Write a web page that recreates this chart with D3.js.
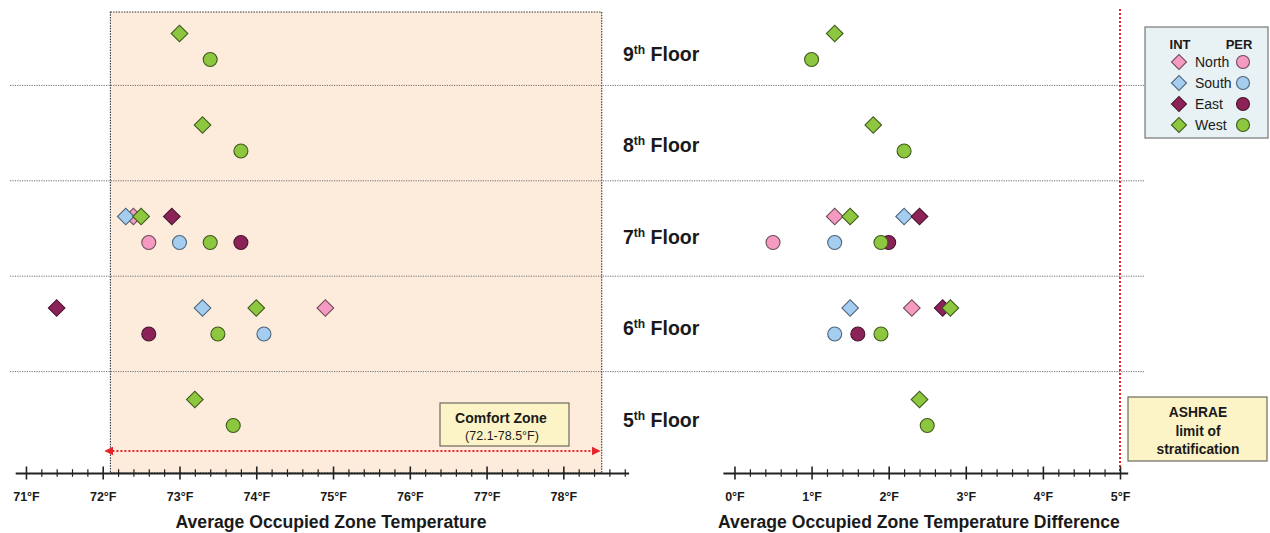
<!DOCTYPE html>
<html>
<head>
<meta charset="utf-8">
<script src="https://cdn.jsdelivr.net/npm/d3@7"></script>
<style>
  html, body { margin: 0; padding: 0; background: #ffffff; }
  svg { display: block; font-family: "Liberation Sans", Arial, sans-serif; }
</style>
</head>
<body>
<svg id="chart" width="1270" height="533"></svg>
<script>
// ---------------- DATA ----------------
const floors = [9, 8, 7, 6, 5];
const orientations = ["North", "South", "East", "West"];

// Average occupied zone temperature (°F), ordered as floors [9,8,7,6,5]
const tempIntNorth = [null, null, 72.4, 74.9, null];
const tempIntSouth = [null, null, 72.3, 73.3, null];
const tempIntEast  = [null, null, 72.9, 71.4, null];
const tempIntWest  = [73.0, 73.3, 72.5, 74.0, 73.2];
const tempPerNorth = [null, null, 72.6, null, null];
const tempPerSouth = [null, null, 73.0, 74.1, null];
const tempPerEast  = [null, null, 73.8, 72.6, null];
const tempPerWest  = [73.4, 73.8, 73.4, 73.5, 73.7];

// Average occupied zone temperature difference (°F)
const diffIntNorth = [null, null, 1.3, 2.3, null];
const diffIntSouth = [null, null, 2.2, 1.5, null];
const diffIntEast  = [null, null, 2.4, 2.7, null];
const diffIntWest  = [1.3, 1.8, 1.5, 2.8, 2.4];
const diffPerNorth = [null, null, 0.5, null, null];
const diffPerSouth = [null, null, 1.3, 1.3, null];
const diffPerEast  = [null, null, 2.0, 1.6, null];
const diffPerWest  = [1.0, 2.2, 1.9, 1.9, 2.5];

const tempMajorTicks = [71, 72, 73, 74, 75, 76, 77, 78];
const diffMajorTicks = [0, 1, 2, 3, 4, 5];
const comfortRange = [72.1, 78.5];
const ashraeLimit = 5;

// ---------------- STYLE / LAYOUT ----------------
const fillColor = d3.scaleOrdinal().domain(orientations)
  .range(["#f59bc2", "#a4cdef", "#8c2358", "#8dc63f"]);
const strokeColor = d3.scaleOrdinal().domain(orientations)
  .range(["#6e4a5a", "#4d6479", "#4a1530", "#3f5a1d"]);

const svg = d3.select("#chart");
const axisY = 473;
const FONT = "'Liberation Sans', Arial, sans-serif";

const xL = d3.scaleLinear().domain([70.86, 78.85]).range([15.2, 628.6]);
const xR = d3.scaleLinear().domain([-0.15, 5.1]).range([722.9, 1127.7]);

const yMark = d3.scalePoint().domain(floors).range([46.5, 412.5]);
const yBand = d3.scaleBand().domain(floors).range([-10, 467]);
const markOffset = 13;

function buildPoints(intArrays, perArrays) {
  const pts = [];
  orientations.forEach((o, j) => {
    floors.forEach((f, i) => {
      const v = intArrays[j][i];
      if (v != null) pts.push({ floor: f, orient: o, value: v, type: "INT" });
    });
  });
  orientations.forEach((o, j) => {
    floors.forEach((f, i) => {
      const v = perArrays[j][i];
      if (v != null) pts.push({ floor: f, orient: o, value: v, type: "PER" });
    });
  });
  return pts;
}

const tempPoints = buildPoints(
  [tempIntNorth, tempIntSouth, tempIntEast, tempIntWest],
  [tempPerNorth, tempPerSouth, tempPerEast, tempPerWest]);
const diffPoints = buildPoints(
  [diffIntNorth, diffIntSouth, diffIntEast, diffIntWest],
  [diffPerNorth, diffPerSouth, diffPerEast, diffPerWest]);

// ---------------- DEFS ----------------
const defs = svg.append("defs");
["start", "end"].forEach(k => {
  defs.append("marker")
    .attr("id", "arrow-" + k)
    .attr("viewBox", "0 0 10 10")
    .attr("refX", k === "end" ? 9 : 1).attr("refY", 5)
    .attr("markerWidth", 4.5).attr("markerHeight", 4.5)
    .attr("markerUnits", "strokeWidth")
    .attr("orient", "auto-start-reverse")
    .append("path")
    .attr("d", "M0,0 L10,5 L0,10 Z")
    .attr("fill", "#e3262b");
});

// ---------------- COMFORT ZONE BACKGROUND ----------------
svg.append("rect")
  .attr("x", xL(comfortRange[0]))
  .attr("y", 12)
  .attr("width", xL(comfortRange[1]) - xL(comfortRange[0]))
  .attr("height", axisY - 12)
  .attr("fill", "#fdecdc")
  .attr("stroke", "#333")
  .attr("stroke-width", 1.1)
  .attr("stroke-dasharray", "1.5,1.2");

// ---------------- FLOOR SEPARATORS ----------------
svg.append("g").selectAll("line")
  .data(floors.slice(1))
  .join("line")
  .attr("x1", 10).attr("x2", 1145)
  .attr("y1", d => yBand(d)).attr("y2", d => yBand(d))
  .attr("stroke", "#6f6f6f")
  .attr("stroke-width", 1)
  .attr("stroke-dasharray", "1.2,1.2");

// ---------------- ASHRAE LIMIT LINE ----------------
svg.append("line")
  .attr("x1", xR(ashraeLimit)).attr("x2", xR(ashraeLimit))
  .attr("y1", 9).attr("y2", axisY)
  .attr("stroke", "#e3262b")
  .attr("stroke-width", 2)
  .attr("stroke-dasharray", "2,2");

// ---------------- COMFORT ARROW ----------------
svg.append("line")
  .attr("x1", xL(comfortRange[0]) + 2).attr("x2", xL(comfortRange[1]) - 2)
  .attr("y1", 451).attr("y2", 451)
  .attr("stroke", "#e3262b")
  .attr("stroke-width", 2)
  .attr("stroke-dasharray", "2,2")
  .attr("marker-start", "url(#arrow-start)")
  .attr("marker-end", "url(#arrow-end)");

// ---------------- AXES ----------------
function drawAxis(scale, majors, lo, hi) {
  const all = d3.range(Math.round(lo * 5), Math.round(hi * 5) + 1).map(k => k / 5);
  const isMajor = d => Math.abs(d - Math.round(d)) < 1e-6;
  const g = svg.append("g")
    .attr("transform", `translate(0,${axisY})`)
    .call(d3.axisBottom(scale)
      .tickValues(all)
      .tickSizeOuter(0)
      .tickSize(0)
      .tickFormat(d => isMajor(d) && majors.includes(Math.round(d)) ? Math.round(d) + "°F" : ""));
  g.select(".domain").attr("stroke", "#222").attr("stroke-width", 2);
  g.selectAll(".tick line")
    .attr("y1", d => isMajor(d) ? -6.5 : -3.8)
    .attr("y2", d => isMajor(d) ? 6.5 : 3.8)
    .attr("stroke", "#222")
    .attr("stroke-width", d => isMajor(d) ? 1.6 : 1.2);
  g.selectAll(".tick text")
    .attr("y", 28).attr("dy", null)
    .attr("font-family", FONT)
    .attr("font-size", 12.5)
    .attr("font-weight", "bold")
    .attr("fill", "#1a1a1a");
  return g;
}
drawAxis(xL, tempMajorTicks, 71, 78.8);
drawAxis(xR, diffMajorTicks, 0, 5);

svg.append("text")
  .attr("x", 331).attr("y", 528)
  .attr("text-anchor", "middle")
  .attr("font-family", FONT).attr("font-size", 17.6).attr("font-weight", "bold")
  .attr("fill", "#1a1a1a")
  .text("Average Occupied Zone Temperature");
svg.append("text")
  .attr("x", 919).attr("y", 528)
  .attr("text-anchor", "middle")
  .attr("font-family", FONT).attr("font-size", 17.6).attr("font-weight", "bold")
  .attr("fill", "#1a1a1a")
  .text("Average Occupied Zone Temperature Difference");

// ---------------- FLOOR LABELS ----------------
const fl = svg.append("g").selectAll("text")
  .data(floors)
  .join("text")
  .attr("x", 623)
  .attr("y", d => yMark(d) + markOffset + 1)
  .attr("font-family", FONT).attr("font-size", 19.5).attr("font-weight", "bold")
  .attr("fill", "#1a1a1a");
fl.append("tspan").text(d => d);
fl.append("tspan").attr("font-size", 12).attr("dy", -7).text("th");
fl.append("tspan").attr("dy", 7).text(" Floor");

// ---------------- MARKERS ----------------
const diamondPath = d3.symbol().type(d3.symbolSquare).size(138)();
const legendDiamondPath = d3.symbol().type(d3.symbolSquare).size(112)();

function drawMarks(points, scale) {
  const g = svg.append("g");
  g.selectAll("path")
    .data(points.filter(p => p.type === "INT"))
    .join("path")
    .attr("d", diamondPath)
    .attr("transform", p => `translate(${scale(p.value)},${yMark(p.floor) - markOffset}) rotate(45)`)
    .attr("fill", p => fillColor(p.orient))
    .attr("stroke", p => strokeColor(p.orient))
    .attr("stroke-width", 1.1);
  g.selectAll("circle")
    .data(points.filter(p => p.type === "PER"))
    .join("circle")
    .attr("cx", p => scale(p.value))
    .attr("cy", p => yMark(p.floor) + markOffset)
    .attr("r", 7)
    .attr("fill", p => fillColor(p.orient))
    .attr("stroke", p => strokeColor(p.orient))
    .attr("stroke-width", 1.1);
}
drawMarks(tempPoints, xL);
drawMarks(diffPoints, xR);

// ---------------- COMFORT ZONE BOX ----------------
svg.append("rect")
  .attr("x", 440).attr("y", 403).attr("width", 129).attr("height", 43)
  .attr("fill", "#fcf4c7").attr("stroke", "#6b6a5c").attr("stroke-width", 1.2);
svg.append("text")
  .attr("x", 501).attr("y", 423).attr("text-anchor", "middle")
  .attr("font-family", FONT).attr("font-size", 14).attr("font-weight", "bold")
  .attr("fill", "#1a1a1a").text("Comfort Zone");
svg.append("text")
  .attr("x", 502).attr("y", 440).attr("text-anchor", "middle")
  .attr("font-family", FONT).attr("font-size", 12.5)
  .attr("fill", "#1a1a1a").text("(72.1-78.5°F)");

// ---------------- ASHRAE BOX ----------------
svg.append("rect")
  .attr("x", 1128).attr("y", 397).attr("width", 139).attr("height", 64)
  .attr("fill", "#fcf4c7").attr("stroke", "#6b6a5c").attr("stroke-width", 1.2);
["ASHRAE", "limit of", "stratification"].forEach((t, i) => {
  svg.append("text")
    .attr("x", 1198).attr("y", 417 + i * 18.5).attr("text-anchor", "middle")
    .attr("font-family", FONT).attr("font-size", 13.8).attr("font-weight", "bold")
    .attr("fill", "#1a1a1a").text(t);
});

// ---------------- LEGEND ----------------
const lg = svg.append("g");
lg.append("rect")
  .attr("x", 1145).attr("y", 27).attr("width", 123).attr("height", 111)
  .attr("fill", "#e8f1f3").attr("stroke", "#777").attr("stroke-width", 1.2);
lg.append("text").attr("x", 1180).attr("y", 49).attr("text-anchor", "middle")
  .attr("font-family", FONT).attr("font-size", 13).attr("font-weight", "bold")
  .attr("fill", "#1a1a1a").text("INT");
lg.append("text").attr("x", 1239).attr("y", 49).attr("text-anchor", "middle")
  .attr("font-family", FONT).attr("font-size", 13).attr("font-weight", "bold")
  .attr("fill", "#1a1a1a").text("PER");
const rows = lg.selectAll("g.row").data(orientations).join("g")
  .attr("class", "row")
  .attr("transform", (d, i) => `translate(0,${62 + i * 21})`);
rows.append("path")
  .attr("d", legendDiamondPath)
  .attr("transform", "translate(1179,0) rotate(45)")
  .attr("fill", d => fillColor(d)).attr("stroke", d => strokeColor(d)).attr("stroke-width", 1.1);
rows.append("text")
  .attr("x", 1195).attr("y", 5)
  .attr("font-family", FONT).attr("font-size", 14)
  .attr("fill", "#1a1a1a").text(d => d);
rows.append("circle")
  .attr("cx", 1243).attr("cy", 0).attr("r", 6.5)
  .attr("fill", d => fillColor(d)).attr("stroke", d => strokeColor(d)).attr("stroke-width", 1.1);
</script>
</body>
</html>
